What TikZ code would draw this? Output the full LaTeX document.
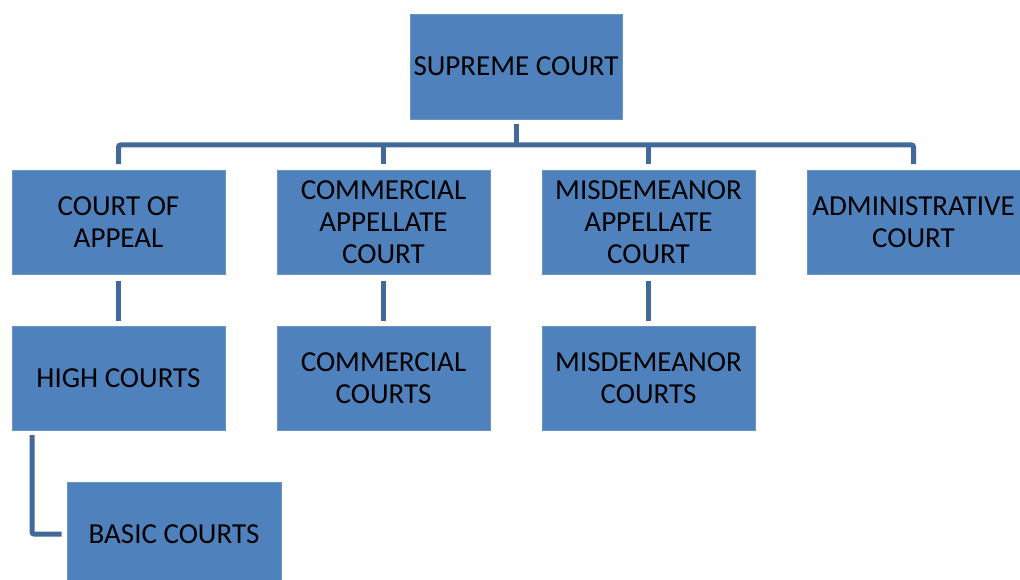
\documentclass[tikz,border=0pt]{standalone}
\usepackage{fontspec}
\setmainfont{Carlito}
\definecolor{boxblue}{HTML}{4F81BD}
\definecolor{boxedge}{HTML}{6A93C8}
\definecolor{linkblue}{HTML}{41699A}
\begin{document}
\begin{tikzpicture}[x=1pt,y=-1pt,
  court/.style={draw=boxedge,line width=0.8pt,fill=boxblue,minimum width=213pt,minimum height=104pt,
    align=center,inner sep=0pt,text=black,font=\fontsize{29}{32}\selectfont},
  conn/.style={draw=linkblue,line width=5pt,rounded corners=2pt}]
\useasboundingbox (0,0) rectangle (1020,580);
\begin{scope}
\clip (0,0) rectangle (1020,580);
\node[court,minimum width=212pt,minimum height=105pt] (sup) at (516,66.5) {SUPREME COURT};
\node[court] (ca) at (118.5,222.5) {COURT OF\\APPEAL};
\node[court] (cac) at (383.5,222.5) {COMMERCIAL\\APPELLATE\\COURT};
\node[court] (mac) at (648.5,222.5) {MISDEMEANOR\\APPELLATE\\COURT};
\node[court] (adm) at (913.5,222.5) {ADMINISTRATIVE\\COURT};
\node[court] (hc) at (118.5,378) {HIGH COURTS};
\node[court] (cc) at (383.5,378) {COMMERCIAL\\COURTS};
\node[court] (mc) at (648.5,378) {MISDEMEANOR\\COURTS};
\node[court,minimum width=214pt] (bc) at (174,534) {BASIC COURTS};
\end{scope}
\coordinate (bus) at (516,145);
\draw[conn] ([yshift=-5pt]sup.south) -- (bus);
\draw[conn] ([yshift=6pt]ca.north) |- (bus) -| ([yshift=6pt]adm.north);
\draw[conn] (bus -| cac.north) -- ([yshift=6pt]cac.north);
\draw[conn] (bus -| mac.north) -- ([yshift=6pt]mac.north);
\draw[conn] ([yshift=-6pt]ca.south) -- ([yshift=5pt]hc.north);
\draw[conn] ([yshift=-6pt]cac.south) -- ([yshift=5pt]cc.north);
\draw[conn] ([yshift=-6pt]mac.south) -- ([yshift=5pt]mc.north);
\coordinate (hcl) at (32,430);
\draw[conn] ([yshift=-5pt]hcl) |- ([xshift=-5pt]bc.west);
\end{tikzpicture}
\end{document}
